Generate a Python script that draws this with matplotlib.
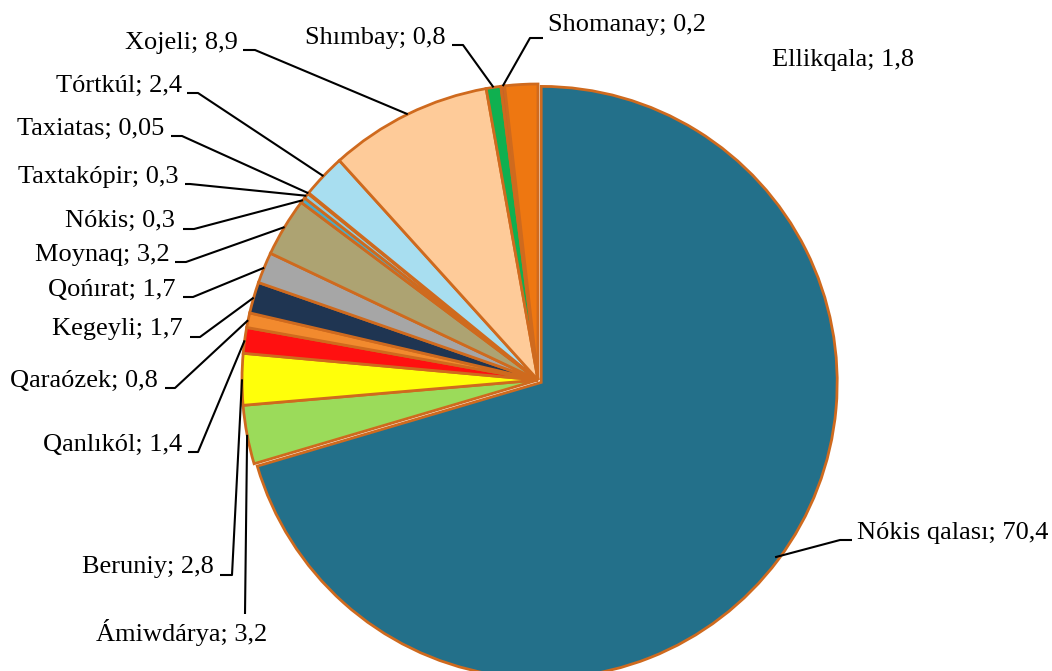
import numpy as np
import matplotlib
matplotlib.use("Agg")
import matplotlib.pyplot as plt

# ---- data ----
districts = ["Nókis qalası", "Ámiwdárya", "Beruniy", "Qanlıkól", "Qaraózek",
             "Kegeyli", "Qońırat", "Moynaq", "Nókis", "Taxtakópir", "Taxiatas",
             "Tórtkúl", "Xojeli", "Shımbay", "Shomanay", "Ellikqala"]
shares = [70.4, 3.2, 2.8, 1.4, 0.8, 1.7, 1.7, 3.2, 0.3, 0.3, 0.05,
          2.4, 8.9, 0.8, 0.2, 1.8]
value_labels = ["70,4", "3,2", "2,8", "1,4", "0,8", "1,7", "1,7", "3,2", "0,3",
                "0,3", "0,05", "2,4", "8,9", "0,8", "0,2", "1,8"]
colors = ["#23708A", "#9BDB5A", "#FFFF0A", "#FF1010", "#F28A2E", "#1F3552",
          "#A6A6A6", "#ADA372", "#4BACC6", "#93CDDD", "#31859C", "#A8DEF0",
          "#FECB99", "#10B050", "#C8602A", "#EE7711"]

# ---- layout (pixel coordinates of the label texts) ----
# (x, y, ha, elbow_start_x, elbow_end_x, elbow_y, leader)
label_layout = [
    (857, 533, "left", 852, 840, 540, True),     # Nókis qalası
    (182, 632, "center", 245, 245, 614, True),   # Ámiwdárya
    (214, 567, "right", 220, 232, 575, True),    # Beruniy
    (182, 445, "right", 188, 198, 452, True),    # Qanlıkól
    (158, 381, "right", 165, 175, 388, True),    # Qaraózek
    (183, 329, "right", 190, 200, 337, True),    # Kegeyli
    (175, 290, "right", 183, 193, 297, True),    # Qońırat
    (170, 255, "right", 175, 186, 262, True),    # Moynaq
    (175, 221, "right", 183, 194, 229, True),    # Nókis
    (178, 177, "right", 185, 190, 184, True),    # Taxtakópir
    (164, 129, "right", 171, 182, 136, True),    # Taxiatas
    (182, 86, "right", 187, 198, 93, True),      # Tórtkúl
    (238, 43, "right", 243, 255, 50, True),      # Xojeli
    (446, 38, "right", 452, 463, 45, True),      # Shımbay
    (548, 25, "left", 543, 530, 38, True),       # Shomanay
    (843, 60, "center", 0, 0, 0, False),         # Ellikqala
]

W, H = 1052, 671
fig = plt.figure(figsize=(W / 100, H / 100), dpi=100)
ax = fig.add_axes([0, 0, 1, 1])

cx, cy, R = 538, 380, 296
edge = "#CF6A1E"
wedges, _ = ax.pie(shares, colors=colors, startangle=-90, counterclock=True,
                   center=(cx, cy), radius=R, frame=True,
                   wedgeprops=dict(edgecolor=edge, linewidth=2.0))
ax.set_xlim(0, W)
ax.set_ylim(H, 0)
ax.set_aspect("equal")
ax.axis("off")

total = sum(shares)
cum = np.cumsum([0] + shares[:-1])
mids = [(c + s / 2) / total for c, s in zip(cum, shares)]

# slight explode of the largest slice
th0 = np.deg2rad(-90 + 360 * mids[0])
wedges[0].set_center((cx + 4 * np.cos(th0), cy + 4 * np.sin(th0)))

font = dict(family="Liberation Serif", fontsize=19, color="black")
for name, val, m, lay in zip(districts, value_labels, mids, label_layout):
    tx, ty, ha, ex1, ex2, ey, leader = lay
    ax.text(tx, ty, f"{name}; {val}", ha=ha, va="center", **font)
    if leader:
        th = np.deg2rad(-90 + 360 * m)
        px, py = cx + R * np.cos(th), cy + R * np.sin(th)
        ax.plot([ex1, ex2, px], [ey, ey, py], color="black", lw=1.5,
                solid_capstyle="butt", zorder=5)

fig.savefig("out.png", dpi=100)
